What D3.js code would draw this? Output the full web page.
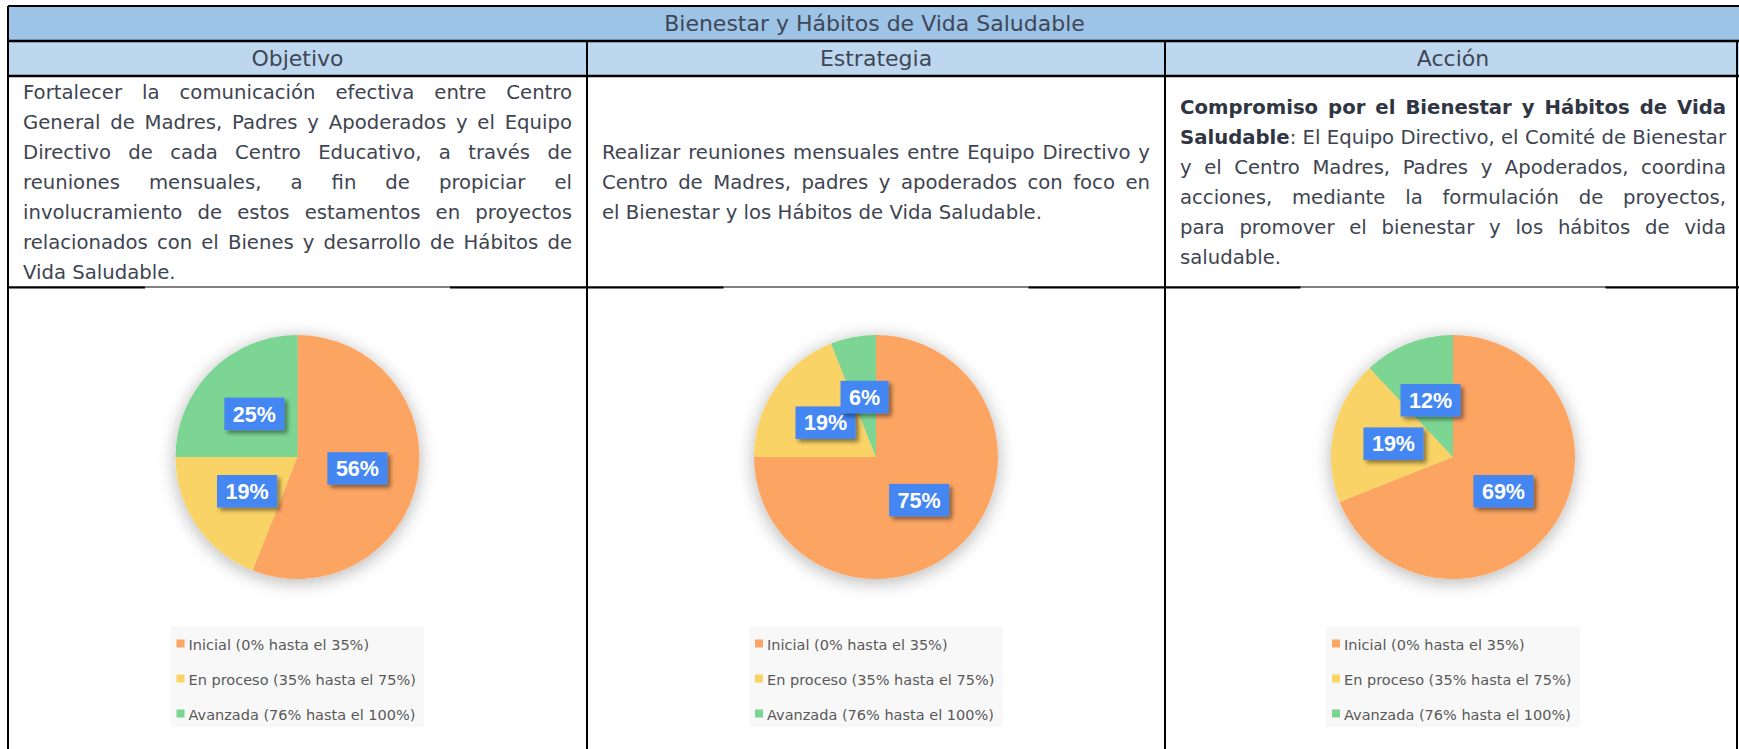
<!DOCTYPE html>
<html>
<head>
<meta charset="UTF-8">
<title>Bienestar y Hábitos de Vida Saludable</title>
<style>
  body { margin: 0; background: #fff; }
  #chart svg { display: block; }
  .head { font-family: "DejaVu Sans", sans-serif; font-size: 22px; fill: #3f4756; text-anchor: middle; }
  .body { font-family: "DejaVu Sans", sans-serif; fill: #3e4451; }
  .body .b { font-weight: bold; fill: #2f3542; }
  .lbl { font-family: "Liberation Sans", Arial, sans-serif; font-weight: bold; font-size: 21.5px; fill: #fff; text-anchor: middle; }
  .leg { font-family: "DejaVu Sans", sans-serif; font-size: 14.5px; fill: #595959; }
</style>
</head>
<body>
<div id="chart"></div>
<script src="https://d3js.org/d3.v7.min.js"></script>
<script>

const title = "Bienestar y Hábitos de Vida Saludable";
const columns = ["Objetivo", "Estrategia", "Acción"];

// one entry per printed line, *...* marks bold
const objetivoLines = [
  "Fortalecer la comunicación efectiva entre Centro",
  "General de Madres, Padres y Apoderados y el Equipo",
  "Directivo de cada Centro Educativo, a través de",
  "reuniones mensuales, a fin de propiciar el",
  "involucramiento de estos estamentos en proyectos",
  "relacionados con el Bienes y desarrollo de Hábitos de",
  "Vida Saludable."
];
const estrategiaLines = [
  "Realizar reuniones mensuales entre Equipo Directivo y",
  "Centro de Madres, padres y apoderados con foco en",
  "el Bienestar y los Hábitos de Vida Saludable."
];
const accionLines = [
  "*Compromiso por el Bienestar y Hábitos de Vida*",
  "*Saludable*: El Equipo Directivo, el Comité de Bienestar",
  "y el Centro Madres, Padres y Apoderados, coordina",
  "acciones, mediante la formulación de proyectos,",
  "para promover el bienestar y los hábitos de vida",
  "saludable."
];

const levels = ["Inicial (0% hasta el 35%)", "En proceso (35% hasta el 75%)", "Avanzada (76% hasta el 100%)"];
const objetivoValues = [56, 19, 25];
const estrategiaValues = [75, 19, 6];
const accionValues = [69, 19, 12];

const colors = ["#fca564", "#fad366", "#7bd592"];

const width = 1739, height = 749;
const colX = [8, 587, 1165, 1741];
const rowY = [6, 41, 76, 287];
const rightEdge = 1737;

const svg = d3.select("#chart").append("svg")
  .attr("width", width).attr("height", height);

const defs = svg.append("defs");
defs.append("filter").attr("id", "pieShadow")
  .attr("x", "-30%").attr("y", "-30%").attr("width", "160%").attr("height", "160%")
  .append("feDropShadow")
  .attr("dx", 0).attr("dy", 3).attr("stdDeviation", 9)
  .attr("flood-color", "#000").attr("flood-opacity", 0.3);
defs.append("filter").attr("id", "boxShadow")
  .attr("x", "-30%").attr("y", "-30%").attr("width", "160%").attr("height", "170%")
  .append("feDropShadow")
  .attr("dx", 3).attr("dy", 3).attr("stdDeviation", 2)
  .attr("flood-color", "#000").attr("flood-opacity", 0.45);

// header bands
svg.append("rect").attr("x", colX[0]).attr("y", rowY[0])
  .attr("width", width - colX[0]).attr("height", rowY[1] - rowY[0]).attr("fill", "#9dc3e6");
svg.append("rect").attr("x", colX[0]).attr("y", rowY[1])
  .attr("width", width - colX[0]).attr("height", rowY[2] - rowY[1]).attr("fill", "#bdd7ee");

svg.append("text").attr("class", "head")
  .attr("x", (colX[0] + colX[3]) / 2).attr("y", rowY[1] - 10.5)
  .text(title);

columns.forEach((c, i) => {
  svg.append("text").attr("class", "head")
    .attr("x", (colX[i] + colX[i + 1]) / 2).attr("y", rowY[2] - 10)
    .text(c);
});

// ---- justified paragraphs
function parseWords(line) {
  let bold = false;
  return line.split(" ").map(word => {
    const segs = [];
    word.split("*").forEach((part, k) => {
      if (k > 0) bold = !bold;
      if (part) segs.push({t: part, b: bold});
    });
    return segs;
  });
}

const measureG = svg.append("g").attr("class", "body");
function wordWidth(segs, size) {
  const t = measureG.append("text").style("font-size", size + "px");
  segs.forEach(s => t.append("tspan").attr("class", s.b ? "b" : null).text(s.t));
  const w = t.node().getComputedTextLength();
  t.remove();
  return w;
}

const paragraphs = [objetivoLines, estrategiaLines, accionLines];
const pad = 15;
let fontSize = 20.5;
{
  const spaceW = wordWidth([{t: "a a", b: false}], fontSize) - wordWidth([{t: "aa", b: false}], fontSize);
  let scale = 1;
  paragraphs.forEach((lines, ci) => {
    const box = colX[ci + 1] - colX[ci] - 2 * pad;
    lines.slice(0, -1).forEach(line => {
      const words = parseWords(line);
      const nat = d3.sum(words, w => wordWidth(w, fontSize)) + spaceW * (words.length - 1);
      scale = Math.min(scale, box / nat);
    });
  });
  fontSize = fontSize * scale;
}

const lineH = 30.1;
paragraphs.forEach((lines, ci) => {
  const x0 = colX[ci] + pad, x1 = colX[ci + 1] - pad;
  const yMid = (rowY[2] + rowY[3]) / 2 + 7.3;
  const g = svg.append("g").attr("class", "body").style("font-size", fontSize + "px");
  const n = lines.length;
  lines.forEach((line, i) => {
    const y = yMid + (i - (n - 1) / 2) * lineH;
    const words = parseWords(line);
    if (i === n - 1) {
      const t = g.append("text").attr("x", x0).attr("y", y);
      words.forEach((w, k) => {
        w.forEach((s, j) => {
          t.append("tspan").attr("class", s.b ? "b" : null)
            .text((k > 0 && j === 0 ? " " : "") + s.t);
        });
      });
      return;
    }
    const ws = words.map(w => wordWidth(w, fontSize));
    const gap = (x1 - x0 - d3.sum(ws)) / (words.length - 1);
    let x = x0;
    words.forEach((w, k) => {
      const t = g.append("text").attr("x", x).attr("y", y);
      w.forEach(s => t.append("tspan").attr("class", s.b ? "b" : null).text(s.t));
      x += ws[k] + gap;
    });
  });
});

// ---- pies
const radius = 122;
const pieCy = 457;
const pie = d3.pie().sort(null).value(d => d);
const arc = d3.arc().innerRadius(0).outerRadius(radius);
const panelW = 305;

[objetivoValues, estrategiaValues, accionValues].forEach((vals, ci) => {
  const cx = (colX[ci] + colX[ci + 1]) / 2;
  const panel = svg.append("g");
  panel.append("rect")
    .attr("x", cx - panelW / 2).attr("y", rowY[3] + 0.5)
    .attr("width", panelW).attr("height", height - rowY[3])
    .attr("fill", "#fff");

  const g = panel.append("g").attr("transform", `translate(${cx},${pieCy})`);
  const arcs = pie(vals);
  g.append("g").attr("filter", "url(#pieShadow)")
    .selectAll("path").data(arcs).join("path")
    .attr("d", arc)
    .attr("fill", (d, i) => colors[i]);

  const lab = g.selectAll("g.lab").data(arcs).join("g")
    .attr("class", "lab")
    .attr("transform", d => `translate(${arc.centroid(d)})`);
  lab.append("text").attr("class", "lbl").attr("y", 7.7).text(d => d.data + "%");
  lab.each(function() {
    const grp = d3.select(this);
    const w = grp.select("text").node().getComputedTextLength() + 17;
    grp.insert("rect", "text")
      .attr("x", -w / 2).attr("y", -16.25)
      .attr("width", w).attr("height", 32.5)
      .attr("fill", "#4487f2")
      .attr("filter", "url(#boxShadow)");
  });

  // legend
  const lg = panel.append("g").attr("transform", `translate(${cx - 127},626)`);
  lg.append("rect").attr("width", 254).attr("height", 101).attr("fill", "#f8f8f8");
  const item = lg.selectAll("g").data(levels).join("g")
    .attr("transform", (d, i) => `translate(6,${23.5 + i * 35})`);
  item.append("rect").attr("y", -10).attr("width", 8).attr("height", 8)
    .attr("fill", (d, i) => colors[i]);
  item.append("text").attr("class", "leg").attr("x", 12).text(d => d);
});

// ---- grid lines
const grid = svg.append("g").attr("stroke", "#000").attr("stroke-width", 2);
grid.append("line").attr("x1", colX[0]).attr("x2", width).attr("y1", rowY[0]).attr("y2", rowY[0]);
rowY.slice(1).forEach(y => {
  grid.append("line").attr("x1", colX[0]).attr("x2", width).attr("y1", y).attr("y2", y)
    .attr("stroke-width", y === rowY[3] ? 1 : 2.5);
});
grid.append("line").attr("x1", colX[0]).attr("x2", colX[0]).attr("y1", rowY[0]).attr("y2", height);
grid.append("line").attr("x1", rightEdge).attr("x2", rightEdge).attr("y1", rowY[1]).attr("y2", height);
[colX[1], colX[2]].forEach(x => {
  grid.append("line").attr("x1", x).attr("x2", x).attr("y1", rowY[1]).attr("y2", height);
});
// thicker parts of the last row line, outside the chart panels
[0, 1, 2].forEach(ci => {
  const cx = (colX[ci] + colX[ci + 1]) / 2;
  [[colX[ci], cx - panelW / 2], [cx + panelW / 2, ci === 2 ? width : colX[ci + 1]]].forEach(([a, b]) => {
    grid.append("line").attr("x1", a).attr("x2", b).attr("y1", rowY[3] + 0.5).attr("y2", rowY[3] + 0.5);
  });
});

</script>
</body>
</html>
